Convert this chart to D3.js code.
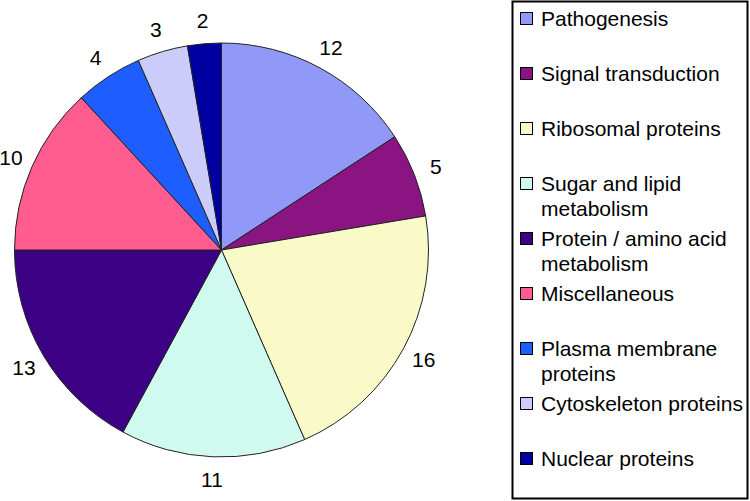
<!DOCTYPE html>
<html>
<head>
<meta charset="utf-8">
<script src="https://cdn.jsdelivr.net/npm/d3@7"></script>
<style>
  html, body { margin: 0; padding: 0; background: #fff; }
  svg { display: block; }
  text { font-family: Arial, "Liberation Sans", sans-serif; fill: #000; }
</style>
</head>
<body>
<svg id="chart" width="750" height="501"></svg>
<script>
const categories = [
  "Pathogenesis",
  "Signal transduction",
  "Ribosomal proteins",
  "Sugar and lipid metabolism",
  "Protein / amino acid metabolism",
  "Miscellaneous",
  "Plasma membrane proteins",
  "Cytoskeleton proteins",
  "Nuclear proteins"
];
const values = [12, 5, 16, 11, 13, 10, 4, 3, 2];
const colors = ["#9098F8", "#8A1482", "#FAFAC8", "#D0FAF0", "#3C0084",
                "#FF5C8F", "#1E5EFF", "#CCCCFA", "#0000A0"];

const svg = d3.select("#chart");
const cx = 221.5, cy = 250, R = 207;

const pie = d3.pie().sort(null).value(d => d.v);
const arcs = pie(values.map((v, i) => ({ v, i })));
const arc = d3.arc().innerRadius(0).outerRadius(R);
const color = d3.scaleOrdinal().domain(d3.range(categories.length)).range(colors);

const g = svg.append("g").attr("transform", `translate(${cx},${cy})`);
g.selectAll("path.slice").data(arcs).join("path")
  .attr("class", "slice")
  .attr("d", arc)
  .attr("fill", d => color(d.data.i))
  .attr("stroke", "#222")
  .attr("stroke-width", 1)
  .attr("stroke-linejoin", "round");

const labelArc = d3.arc().innerRadius(230).outerRadius(230);
g.selectAll("text.lbl").data(arcs).join("text")
  .attr("class", "lbl")
  .attr("transform", d => `translate(${labelArc.centroid(d)})`)
  .attr("text-anchor", "middle")
  .attr("dy", "0.36em")
  .attr("font-size", "21px")
  .text(d => d.data.v);

// Legend
const lg = svg.append("g");
lg.append("rect")
  .attr("x", 512.5).attr("y", 1.5)
  .attr("width", 235).attr("height", 497)
  .attr("fill", "#fff")
  .attr("stroke", "#000")
  .attr("stroke-width", 2);

const rowStep = 55, lineStep = 24.5, firstBase = 26, textX = 541, maxW = 206;
categories.forEach((name, i) => {
  const base = firstBase + i * rowStep;
  lg.append("rect")
    .attr("x", 520.5).attr("y", base - 13.5)
    .attr("width", 12).attr("height", 12)
    .attr("fill", color(i))
    .attr("stroke", "#000")
    .attr("stroke-width", 1);
  const t = lg.append("text")
    .attr("x", textX).attr("y", base)
    .attr("font-size", "21px");
  const words = name.split(" ");
  let line = [];
  let lineNo = 0;
  let tspan = t.append("tspan").attr("x", textX).attr("y", base);
  words.forEach(w => {
    line.push(w);
    tspan.text(line.join(" "));
    if (tspan.node().getComputedTextLength() > maxW && line.length > 1) {
      line.pop();
      tspan.text(line.join(" "));
      line = [w];
      lineNo++;
      tspan = t.append("tspan").attr("x", textX).attr("y", base + lineNo * lineStep).text(w);
    }
  });
});
</script>
</body>
</html>
